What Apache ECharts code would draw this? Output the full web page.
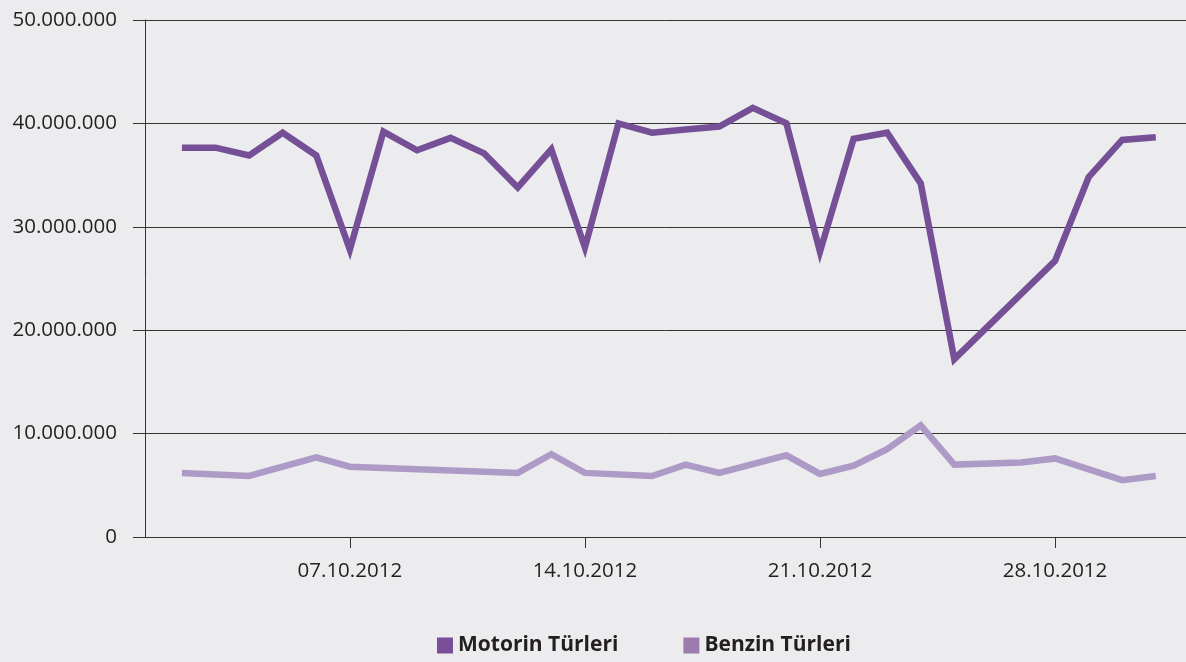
<!DOCTYPE html>
<html>
<head>
<meta charset="utf-8">
<style>
html, body { margin: 0; padding: 0; background: #ECECEE; }
#main { width: 1186px; height: 662px; }
</style>
<script src="https://cdn.jsdelivr.net/npm/echarts@6/dist/echarts.min.js"></script>
</head>
<body>
<div id="main"></div>
<script>
// gün (Ekim 2012)
var days = [2, 3, 4, 5, 6, 7, 8, 9, 10, 11, 12, 13, 14, 15, 16,
            17, 18, 19, 20, 21, 22, 23, 24, 25, 26, 27, 28, 29, 30, 31];
var motorin = [37650000, 37650000, 36900000, 39100000, 36900000, 27800000, 39200000, 37400000, 38600000, 37100000,
               33800000, 37500000, 28000000, 40000000, 39100000, 39400000, 39700000, 41500000, 40000000, 27600000,
               38500000, 39100000, 34200000, 17200000, null, null, 26700000, 34800000, 38400000, 38650000];
var benzin = [6200000, null, 5900000, null, 7700000, 6800000, null, null, null, null,
              6200000, 8000000, 6200000, null, 5900000, 7000000, 6200000, null, 7900000, 6100000,
              6900000, 8500000, 10800000, 7000000, null, 7200000, 7600000, null, 5500000, 5900000];
var tickDays = [7, 14, 21, 28];

function pairs(vals) {
    var out = [];
    for (var i = 0; i < days.length; i++) {
        if (vals[i] != null) out.push([days[i], vals[i]]);
    }
    return out;
}

function dotted(v) {
    return String(v).replace(/\B(?=(\d{3})+(?!\d))/g, '.');
}

var myChart = echarts.init(document.getElementById('main'));

myChart.setOption({
    animation: false,
    backgroundColor: '#ECECEE',
    textStyle: { fontFamily: 'Open Sans' },
    grid: { left: 145, right: 0, top: 20, bottom: 125 },
    legend: {
        left: 432,
        top: 630,
        icon: 'rect',
        itemWidth: 16,
        itemHeight: 16,
        itemGap: 65,
        textStyle: { fontFamily: 'Open Sans', fontWeight: 'bold', fontSize: 21, color: '#231F20' },
        data: ['Motorin Türleri', 'Benzin Türleri']
    },
    xAxis: {
        type: 'value',
        min: 0.9,
        max: 31.9,
        axisLine: { show: true, lineStyle: { color: '#333333', width: 1 } },
        axisTick: { show: true, length: 11, customValues: tickDays, lineStyle: { color: '#333333' } },
        axisLabel: {
            customValues: tickDays,
            margin: 24,
            fontSize: 20.5,
            color: '#231F20',
            formatter: function (v) {
                var d = Math.round(v);
                return (d < 10 ? '0' + d : d) + '.10.2012';
            }
        },
        splitLine: { show: false }
    },
    yAxis: {
        type: 'value',
        min: 0,
        max: 50000000,
        interval: 10000000,
        axisLine: { show: true, lineStyle: { color: '#333333', width: 1 } },
        axisTick: { show: true, length: 12, lineStyle: { color: '#333333' } },
        axisLabel: {
            margin: 28,
            fontSize: 20.5,
            color: '#231F20',
            formatter: function (v) { return dotted(v); }
        },
        splitLine: { show: true, lineStyle: { color: '#333333', width: 1 } }
    },
    series: [{
        name: 'Motorin Türleri',
        type: 'line',
        data: pairs(motorin),
        showSymbol: false,
        itemStyle: { color: '#7A4E98' },
        lineStyle: { color: '#765097', width: 6.5, join: 'miter', cap: 'butt' },
        z: 3
    }, {
        name: 'Benzin Türleri',
        type: 'line',
        data: pairs(benzin),
        showSymbol: false,
        itemStyle: { color: '#9C7BAE' },
        lineStyle: { color: '#AE9AC7', width: 6.5, join: 'miter', cap: 'butt' },
        z: 2
    }]
});
</script>
</body>
</html>
